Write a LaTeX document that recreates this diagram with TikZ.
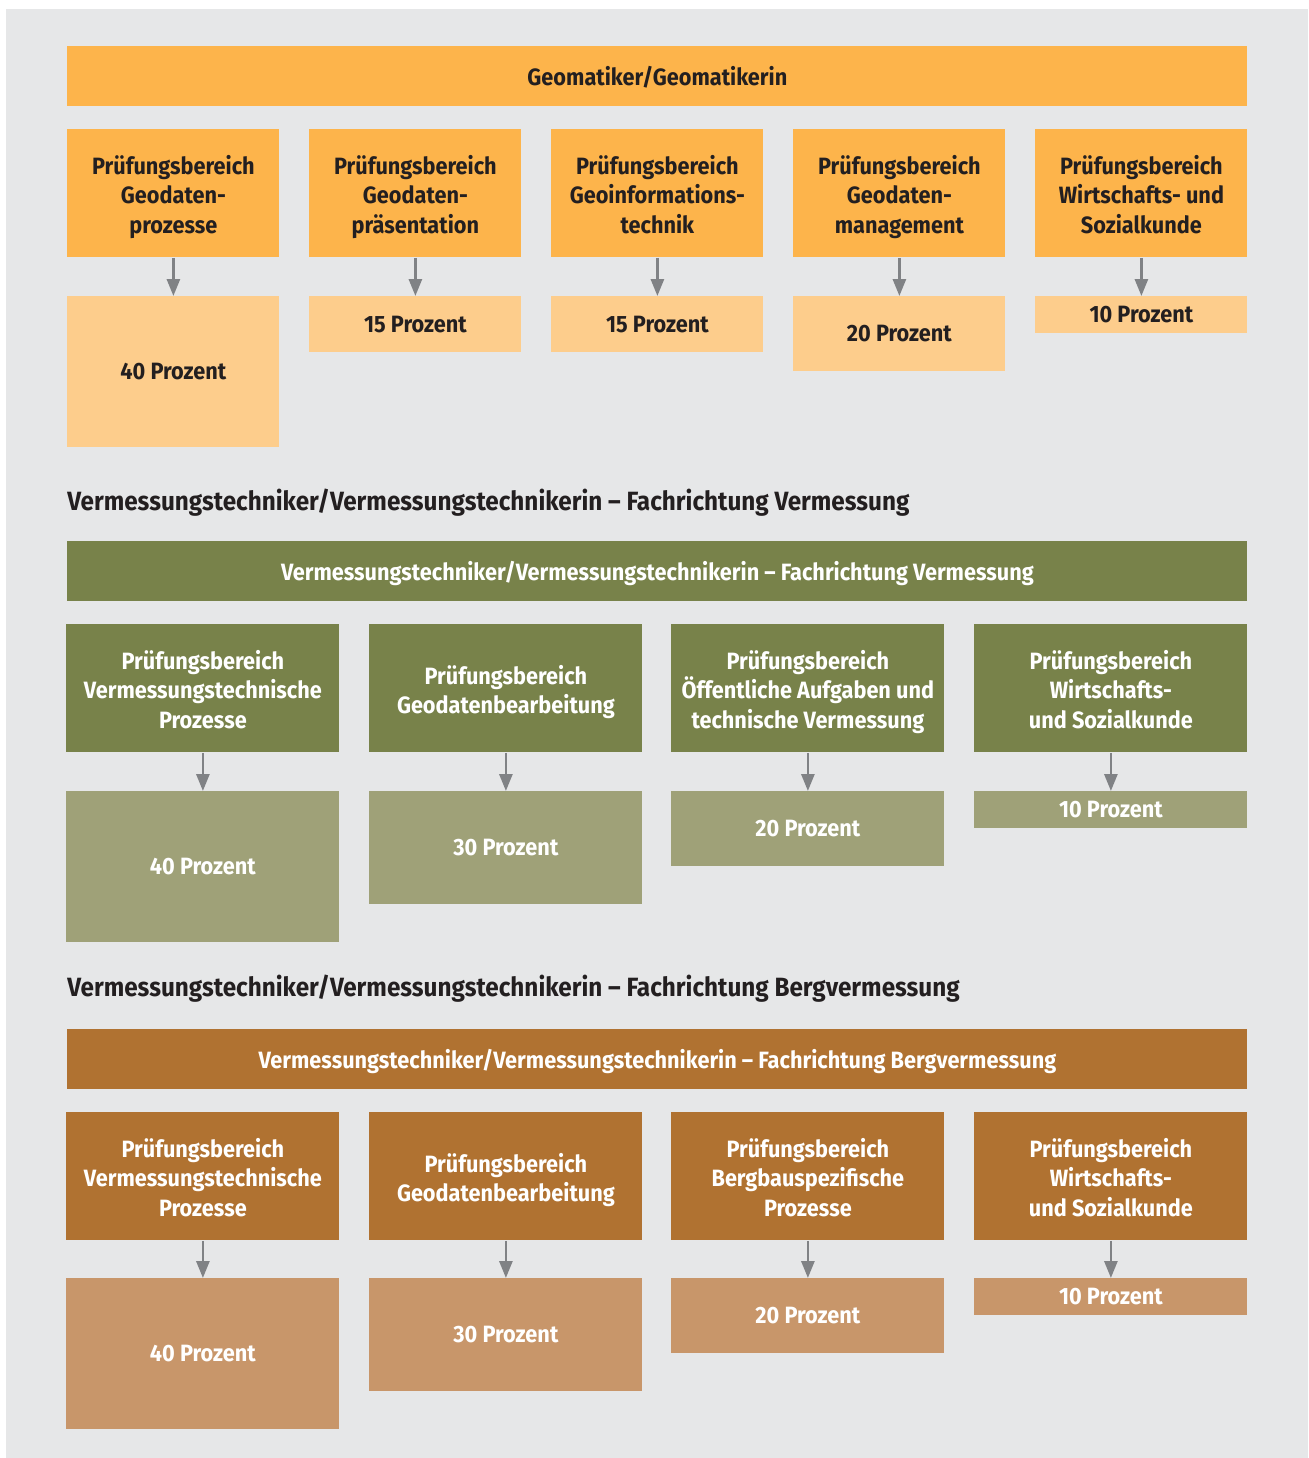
\documentclass[tikz,border=0pt]{standalone}
\usepackage{fontspec}
\setmainfont{Fira Sans}[FakeStretch=0.92]
\usetikzlibrary{arrows.meta}
\definecolor{PanelGray}{HTML}{E6E7E8}
\definecolor{GeoOrange}{HTML}{FDB44B}
\definecolor{GeoOrangeLight}{HTML}{FDCD8C}
\definecolor{VermGreen}{HTML}{78824A}
\definecolor{VermGreenLight}{HTML}{9FA178}
\definecolor{BergBrown}{HTML}{B07231}
\definecolor{BergBrownLight}{HTML}{C8966A}
\definecolor{InkDark}{HTML}{231F20}
\definecolor{ArrowGray}{HTML}{808285}
% Top strut that lowers the area labels a little.
\newcommand{\areatop}{\rule{0pt}{15pt}}

\begin{document}
\begin{tikzpicture}[x=0.5pt,y=-0.5pt,
      font=\bfseries\fontsize{11.8}{14.8}\selectfont,
      banner/.style={anchor=north west,inner sep=0pt,minimum width=590pt,
                     minimum height=30pt,text height=9pt,text depth=0pt,
                     font=\bfseries\fontsize{11.8}{14}\selectfont},
      area/.style={anchor=north west,inner sep=0pt,align=center,
                   minimum height=64pt},
      share/.style={anchor=north west,inner sep=0pt},
      heading/.style={anchor=west,inner sep=0pt,text=InkDark,
                      font=\bfseries\fontsize{13.2}{15}\selectfont},
      link/.style={-{Triangle[length=8.5pt,width=6.5pt]},draw=ArrowGray,
                   line width=1.4pt}]
    % Panel and page size.
    \useasboundingbox (0,0) rectangle (1308,1458);
    \fill[PanelGray] (6,9) rectangle (1308,1458);

    % Geomatiker: five areas with their shares.
    \node[banner,fill=GeoOrange,text=InkDark] (geoBanner) at (67,46)
      {Geomatiker/Geomatikerin};
    \foreach \i/\x/\label/\p/\h in {
        1/67/{Prüfungsbereich\\Geodaten-\\prozesse}/40/151,
        2/309/{Prüfungsbereich\\Geodaten-\\präsentation}/15/56,
        3/551/{Prüfungsbereich\\Geoinformations-\\technik}/15/56,
        4/793/{Prüfungsbereich\\Geodaten-\\management}/20/75,
        5/1035/{Prüfungsbereich\\Wirtschafts- und\\Sozialkunde}/10/37}{%
      \node[area,fill=GeoOrange,text=InkDark,minimum width=106pt]
        (geoArea\i) at (\x,129) {\areatop\label\strut};
      \node[share,fill=GeoOrangeLight,text=InkDark,minimum width=106pt,
            minimum height=\h*0.5pt] (geoShare\i) at (\x,296) {\p\ Prozent};
      \draw[link] (geoArea\i.south) -- (geoShare\i.north);
    }

    % Vermessung: four areas.
    \node[heading] (vermHeading) at (67,503)
      {Vermessungstechniker/Vermessungstechnikerin – Fachrichtung Vermessung};
    \node[banner,fill=VermGreen,text=white] (vermBanner) at (67,541)
      {Vermessungstechniker/Vermessungstechnikerin – Fachrichtung Vermessung};
    \foreach \i/\x/\label/\p/\h in {
        1/66/{Prüfungsbereich\\Vermessungstechnische\\Prozesse}/40/151,
        2/369/{Prüfungsbereich\\Geodatenbearbeitung}/30/113,
        3/671/{Prüfungsbereich\\Öffentliche Aufgaben und\\technische Vermessung}/20/75,
        4/974/{Prüfungsbereich\\Wirtschafts-\\und Sozialkunde}/10/37}{%
      \node[area,fill=VermGreen,text=white,minimum width=136.5pt]
        (vermArea\i) at (\x,624) {\areatop\label\strut};
      \node[share,fill=VermGreenLight,text=white,minimum width=136.5pt,
            minimum height=\h*0.5pt] (vermShare\i) at (\x,791) {\p\ Prozent};
      \draw[link] (vermArea\i.south) -- (vermShare\i.north);
    }

    % Bergvermessung: four areas.
    \node[heading] (bergHeading) at (67,989)
      {Vermessungstechniker/Vermessungstechnikerin – Fachrichtung Bergvermessung};
    \node[banner,fill=BergBrown,text=white] (bergBanner) at (67,1029)
      {Vermessungstechniker/Vermessungstechnikerin – Fachrichtung Bergvermessung};
    \foreach \i/\x/\label/\p/\h in {
        1/66/{Prüfungsbereich\\Vermessungstechnische\\Prozesse}/40/151,
        2/369/{Prüfungsbereich\\Geodatenbearbeitung}/30/113,
        3/671/{Prüfungsbereich\\Bergbauspezifische\\Prozesse}/20/75,
        4/974/{Prüfungsbereich\\Wirtschafts-\\und Sozialkunde}/10/37}{%
      \node[area,fill=BergBrown,text=white,minimum width=136.5pt]
        (bergArea\i) at (\x,1112) {\areatop\label\strut};
      \node[share,fill=BergBrownLight,text=white,minimum width=136.5pt,
            minimum height=\h*0.5pt] (bergShare\i) at (\x,1278) {\p\ Prozent};
      \draw[link] (bergArea\i.south) -- (bergShare\i.north);
    }
  \end{tikzpicture}
\end{document}
